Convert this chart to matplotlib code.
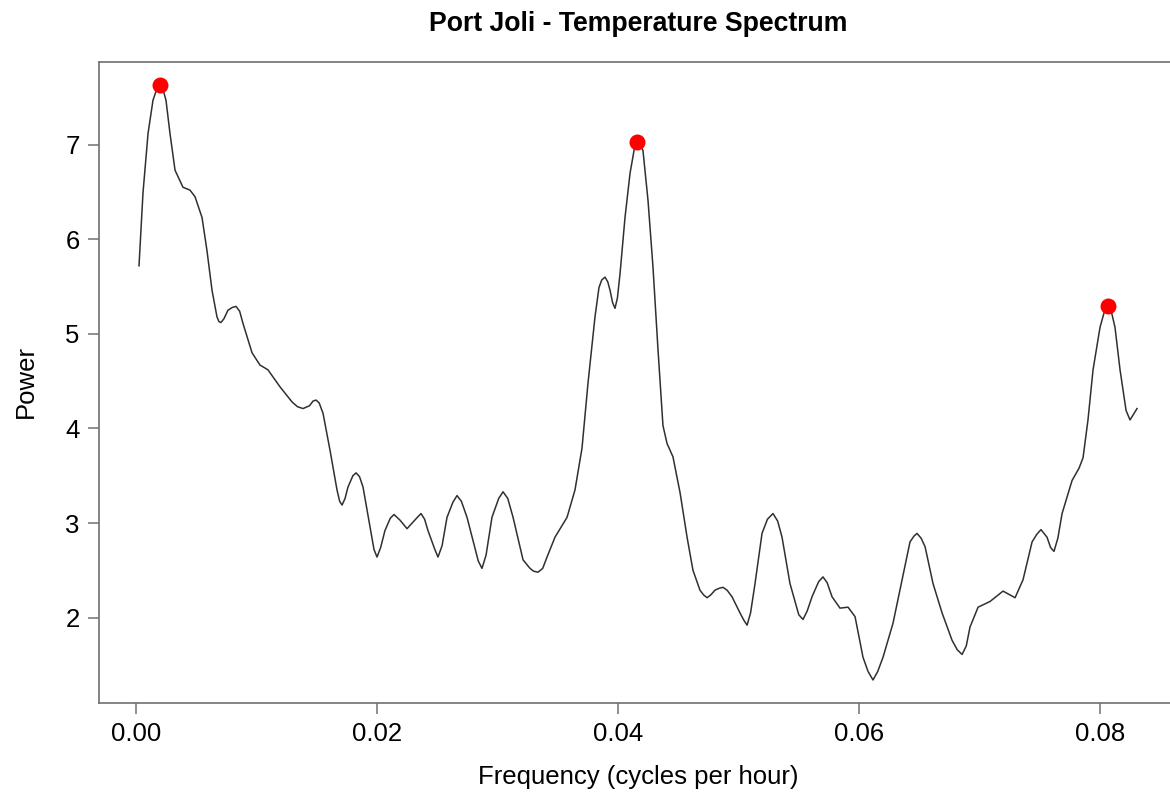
import matplotlib
matplotlib.use("Agg")
import matplotlib.pyplot as plt

# spectrum
freq = [0.00025, 0.00058, 0.00100, 0.00141, 0.00199, 0.00249, 0.00282, 0.00324,
        0.00390, 0.00448, 0.00490, 0.00548, 0.00589, 0.00631, 0.00672, 0.00705,
        0.00763, 0.00830, 0.00888, 0.00963, 0.01029, 0.01095, 0.01195, 0.01295,
        0.01386, 0.01494, 0.01552, 0.01610, 0.01668, 0.01710, 0.01759, 0.01826,
        0.01884, 0.01942, 0.02000, 0.02066, 0.02141, 0.02191, 0.02249, 0.02365,
        0.02423, 0.02506, 0.02581, 0.02664, 0.02747, 0.02871, 0.02954, 0.03046,
        0.03129, 0.03212, 0.03270, 0.03336, 0.03411, 0.03477, 0.03577, 0.03643,
        0.03701, 0.03751, 0.03809, 0.03842, 0.03892, 0.03934, 0.03975, 0.04017,
        0.04058, 0.04100, 0.04133, 0.04158, 0.04207, 0.04249, 0.04290, 0.04332,
        0.04373, 0.04407, 0.04456, 0.04515, 0.04573, 0.04622, 0.04680, 0.04739,
        0.04805, 0.04871, 0.04946, 0.05012, 0.05071, 0.05137, 0.05195, 0.05286,
        0.05361, 0.05427, 0.05535, 0.05610, 0.05701, 0.05776, 0.05842, 0.05909,
        0.05967, 0.06033, 0.06116, 0.06199, 0.06282, 0.06357, 0.06423, 0.06481,
        0.06548, 0.06614, 0.06689, 0.06772, 0.06855, 0.06921, 0.06988, 0.07087,
        0.07195, 0.07295, 0.07361, 0.07436, 0.07510, 0.07618, 0.07685, 0.07768,
        0.07826, 0.07859, 0.07900, 0.07942, 0.08000, 0.08066, 0.08124, 0.08166,
        0.08216, 0.08249, 0.08307]
power = [5.72, 6.49, 7.12, 7.47, 7.63, 7.47, 7.12, 6.73,
         6.55, 6.52, 6.45, 6.23, 5.88, 5.46, 5.18, 5.12,
         5.25, 5.29, 5.11, 4.80, 4.67, 4.62, 4.44, 4.28,
         4.21, 4.30, 4.16, 3.77, 3.35, 3.19, 3.38, 3.53,
         3.38, 2.96, 2.64, 2.92, 3.09, 3.03, 2.94, 3.10,
         2.92, 2.64, 3.06, 3.29, 3.06, 2.52, 3.06, 3.33,
         3.06, 2.61, 2.52, 2.48, 2.64, 2.85, 3.06, 3.35,
         3.79, 4.48, 5.18, 5.49, 5.60, 5.46, 5.27, 5.64,
         6.23, 6.70, 6.94, 7.03, 6.94, 6.41, 5.71, 4.83,
         4.03, 3.84, 3.70, 3.32, 2.85, 2.50, 2.29, 2.21,
         2.29, 2.32, 2.22, 2.05, 1.92, 2.36, 2.89, 3.10,
         2.85, 2.36, 1.98, 2.22, 2.43, 2.22, 2.10, 2.11,
         2.01, 1.58, 1.34, 1.58, 1.94, 2.40, 2.80, 2.89,
         2.75, 2.36, 2.05, 1.76, 1.61, 1.90, 2.11, 2.17,
         2.28, 2.21, 2.40, 2.80, 2.93, 2.70, 3.10, 3.45,
         3.58, 3.69, 4.09, 4.62, 5.07, 5.29, 5.07, 4.62,
         4.19, 4.09, 4.21]

# extra readings taken around the peaks and troughs
freq_extra = [0.00170, 0.00225, 0.00688, 0.00730, 0.00800, 0.00860, 0.01340, 0.01440,
              0.01470, 0.01520, 0.01690, 0.01735, 0.01800, 0.01855, 0.01975, 0.02030,
              0.02110, 0.02335, 0.02395, 0.02480, 0.02540, 0.02630, 0.02700, 0.02840,
              0.02905, 0.03010, 0.03085, 0.03300, 0.03375, 0.03865, 0.03915, 0.03955,
              0.03995, 0.04145, 0.04180, 0.04710, 0.04770, 0.04840, 0.04905, 0.05045,
              0.05100, 0.05240, 0.05325, 0.05500, 0.05570, 0.05665, 0.05735, 0.06075,
              0.06155, 0.06455, 0.06515, 0.06815, 0.06890, 0.07475, 0.07560, 0.07590,
              0.07650, 0.08035, 0.08095]
power_extra = [7.58, 7.58, 5.13, 5.16, 5.28, 5.24, 4.23, 4.24,
               4.29, 4.27, 3.23, 3.26, 3.50, 3.49, 2.72, 2.74,
               3.05, 3.06, 3.04, 2.72, 2.76, 3.22, 3.23, 2.60,
               2.66, 3.26, 3.26, 2.49, 2.52, 5.57, 5.55, 5.33,
               5.38, 7.00, 7.01, 2.24, 2.24, 2.31, 2.29, 1.97,
               2.05, 3.04, 3.02, 2.03, 2.07, 2.38, 2.37, 1.43,
               1.43, 2.86, 2.84, 1.66, 1.70, 2.88, 2.85, 2.74,
               2.84, 5.23, 5.23]

peak_freq = [0.00199, 0.04158, 0.08066]
peak_power = [7.63, 7.03, 5.29]

xticks = [0.00, 0.02, 0.04, 0.06, 0.08]
yticks = [2, 3, 4, 5, 6, 7]

pts = sorted(zip(freq + freq_extra, power + power_extra))
f_all = [p[0] for p in pts]
p_all = [p[1] for p in pts]

plt.rcParams['font.family'] = ['Liberation Sans', 'DejaVu Sans']

fig = plt.figure(figsize=(11.7, 7.95), dpi=100)
ax = fig.add_axes([99 / 1170, 92.5 / 795, 1079 / 1170, 641 / 795])

ax.plot(f_all, p_all, color='#303030', lw=1.1, solid_joinstyle='round')
ax.plot(peak_freq, peak_power, 'o', color='#ff0000', ms=11.5, mec='none')

ax.set_xlim(-0.00307, 0.08647)
ax.set_ylim(1.102, 7.88)
ax.set_xticks(xticks)
ax.set_xticklabels(['%.2f' % t for t in xticks])
ax.set_yticks(yticks)

for s in ax.spines.values():
    s.set_color('#707070')
    s.set_linewidth(1.2)
ax.tick_params(length=8, width=1.1, color='#707070', labelsize=18.5, pad=6)

ax.set_title('Port Joli - Temperature Spectrum', fontsize=19.2,
             fontweight='bold', pad=22)
ax.set_xlabel('Frequency (cycles per hour)', fontsize=18.5, labelpad=14)
ax.set_ylabel('Power', fontsize=18.5, labelpad=20)

fig.savefig('out.png', dpi=100)
